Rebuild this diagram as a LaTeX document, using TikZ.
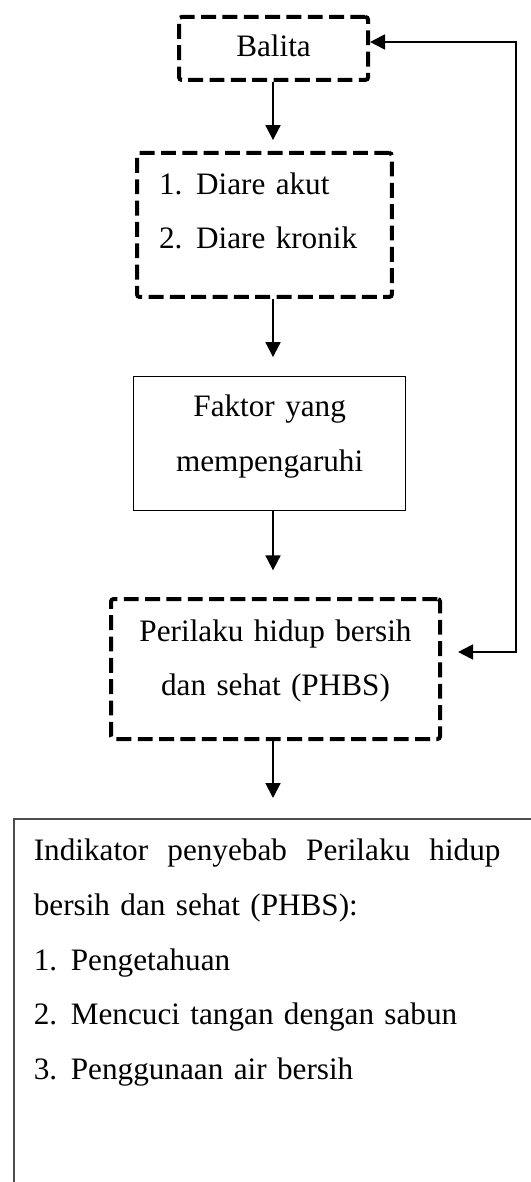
\documentclass[tikz,border=0pt]{standalone}
\usepackage{fontspec}
\setmainfont{Liberation Serif}
\usetikzlibrary{arrows.meta}
\newcommand{\butir}[1]{\makebox[13.9pt][l]{#1}}

\begin{document}
\begin{tikzpicture}[x=0.375pt,y=-0.375pt,
    font=\fontsize{11.7}{20.5}\selectfont,
    putus/.style={draw,line width=1.5pt,dash pattern=on 5.6pt off 2.4pt,rounded corners=1pt,inner ysep=0pt,anchor=north west},
    kotak/.style={draw,line width=0.5pt,inner ysep=0pt,anchor=north west},
    panah/.style={-{Triangle[length=5.6pt,width=5.6pt]},line width=0.75pt},
    balik/.style={{Triangle[length=5.6pt,width=5.6pt]}-{Triangle[length=5.6pt,width=5.6pt]},line width=0.75pt}]
  \useasboundingbox (0,0) rectangle (530,1182);
  \node (balita) [putus,minimum width=70.9pt,text height=15pt,text depth=8.6pt] at (177,15) {Balita};
  \node (diare) [putus,text width=79.1pt,inner xsep=8.25pt,align=left,text height=15.4pt,text depth=38.6pt] at (135,151)
    {\butir{1.}Diare akut\\ \butir{2.}Diare kronik};
  \node (faktor) [kotak,text width=90pt,inner xsep=6pt,align=center,text height=15pt,text depth=35.25pt] at (133,376)
    {Faktor yang\\ mempengaruhi};
  \node (phbs) [putus,text width=111.4pt,inner xsep=6pt,align=center,text height=15.75pt,text depth=36.75pt] at (109,597)
    {Perilaku hidup bersih\\ dan sehat (PHBS)};
  \node (indikator) [kotak,draw=black!70,line width=0.6pt,text width=184.5pt,inner xsep=7.5pt,align=left,text height=15.75pt,text depth=130pt] at (13,818)
    {\hbox to 175pt{Indikator\hfill penyebab\hfill Perilaku\hfill hidup}\\ bersih dan sehat (PHBS):\\ \butir{1.}Pengetahuan\\ \butir{2.}Mencuci tangan dengan sabun\\ \butir{3.}Penggunaan air bersih};
  \coordinate (sumbu) at (273,0);
  \coordinate (fbatas) at (516,42);
  \coordinate (fbbawah) at (516,652);
  \draw[panah,shorten >=4.1pt] (balita.south -| sumbu) -- (diare.north -| sumbu);
  \draw[panah,shorten >=7.1pt] (diare.south -| sumbu) -- (faktor.north -| sumbu);
  \draw[panah,shorten >=10pt] (faktor.south -| sumbu) -- (phbs.north -| sumbu);
  \draw[panah,shorten >=7.5pt] (phbs.south -| sumbu) -- (indikator.north -| sumbu);
  \draw[balik,shorten >=6pt] (balita.east |- fbatas) -- (fbatas) -- (fbbawah) -- (phbs.east |- fbbawah);
\end{tikzpicture}
\end{document}
